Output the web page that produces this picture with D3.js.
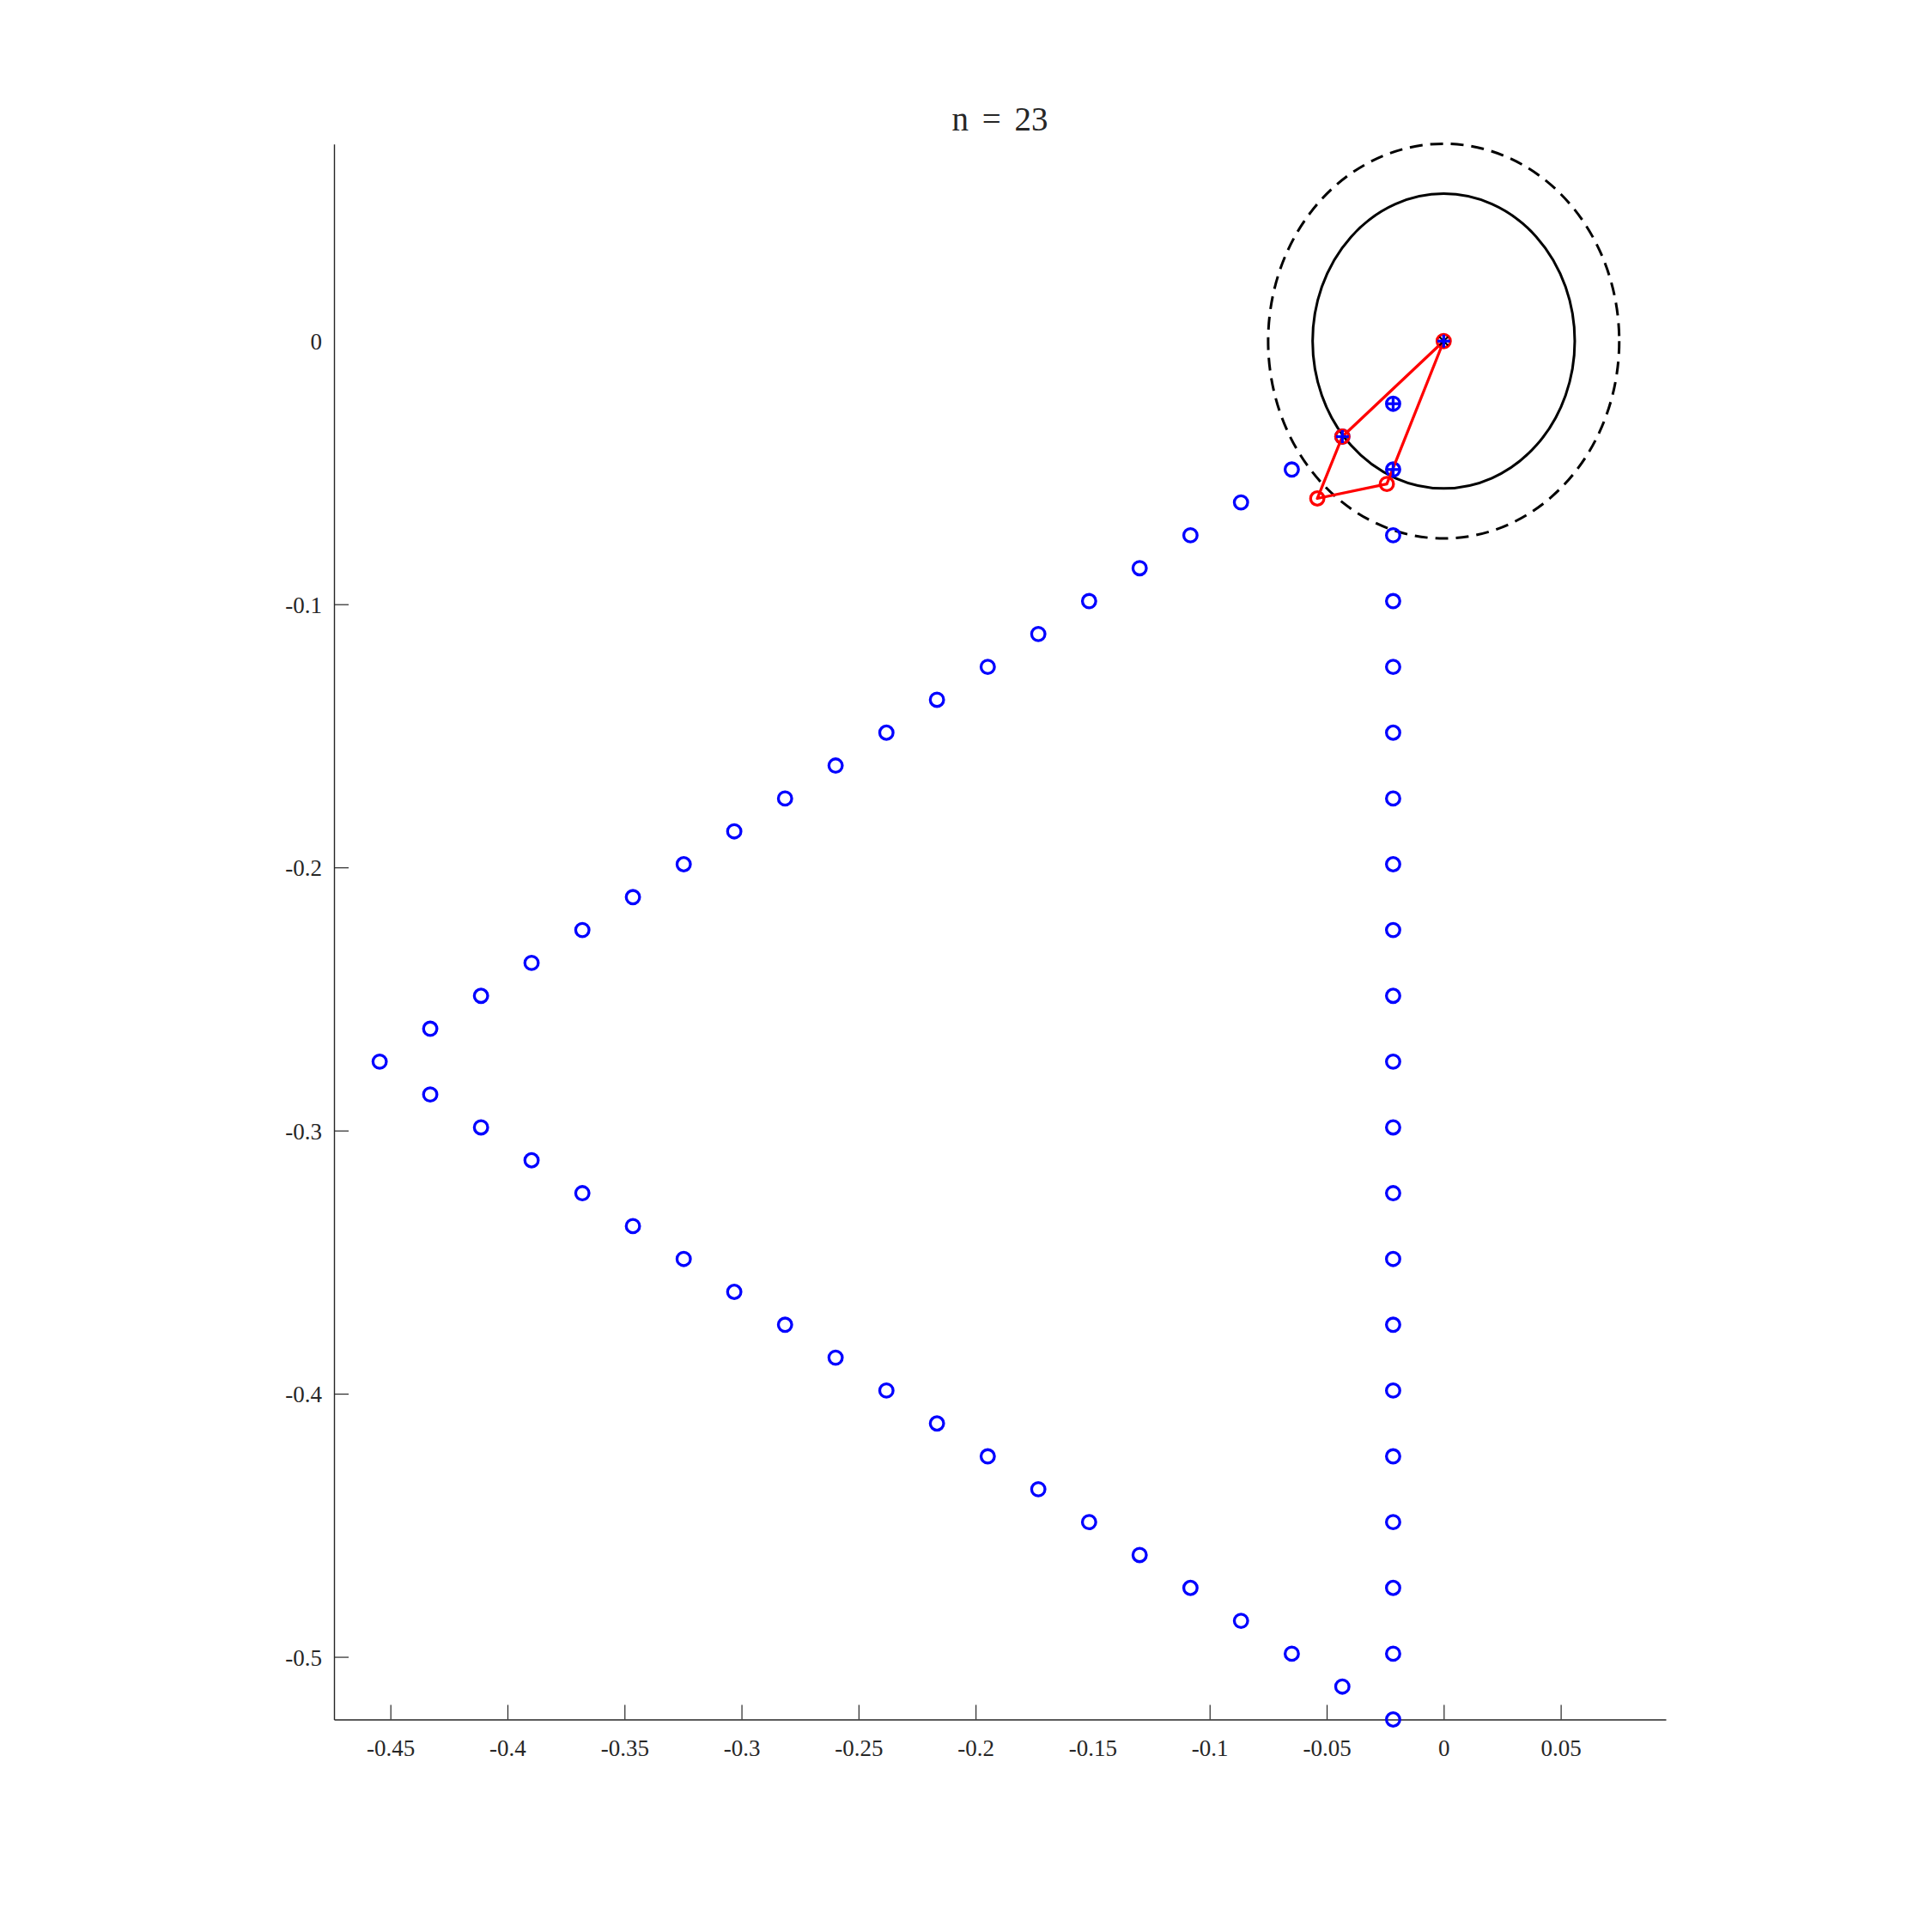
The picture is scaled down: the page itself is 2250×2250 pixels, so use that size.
<!DOCTYPE html>
<html>
<head>
<meta charset="utf-8">
<script src="https://cdn.jsdelivr.net/npm/d3@7"></script>
<style>
  html, body { margin: 0; padding: 0; background: #fff; }
  svg { display: block; }
  text { font-family: "Liberation Serif", "DejaVu Serif", serif; fill: #262626; }
</style>
</head>
<body>
<script>
// ---------- data ----------
const titleText = "n = 23";

// upper arm of the lattice triangle (from top vertex to left tip)
const upperX = [-0.0216, -0.0433, -0.0649, -0.0866, -0.1082, -0.1299, -0.1515, -0.1732, -0.1948, -0.2165, -0.2381,
                -0.2598, -0.2814, -0.3031, -0.3247, -0.3464, -0.3680, -0.3897, -0.4113, -0.4330, -0.4546];
const upperY = [-0.0238, -0.0363, -0.0488, -0.0613, -0.0738, -0.0863, -0.0988, -0.1113, -0.1238, -0.1363, -0.1488,
                -0.1613, -0.1738, -0.1863, -0.1988, -0.2113, -0.2238, -0.2363, -0.2488, -0.2613, -0.2738];

// lower arm (from next to the left tip down to the bottom vertex)
const lowerX = [-0.4330, -0.4113, -0.3897, -0.3680, -0.3464, -0.3247, -0.3031, -0.2814, -0.2598, -0.2381,
                -0.2165, -0.1948, -0.1732, -0.1515, -0.1299, -0.1082, -0.0866, -0.0649, -0.0433, -0.0216];
const lowerY = [-0.2863, -0.2988, -0.3113, -0.3238, -0.3363, -0.3488, -0.3613, -0.3738, -0.3863, -0.3988,
                -0.4113, -0.4238, -0.4363, -0.4488, -0.4613, -0.4738, -0.4863, -0.4988, -0.5113, -0.5238];

// vertical column (between the two vertices)
const columnX = [-0.0216, -0.0216, -0.0216, -0.0216, -0.0216, -0.0216, -0.0216, -0.0216, -0.0216, -0.0216,
                 -0.0216, -0.0216, -0.0216, -0.0216, -0.0216, -0.0216, -0.0216, -0.0216, -0.0216];
const columnY = [-0.0488, -0.0738, -0.0988, -0.1238, -0.1488, -0.1738, -0.1988, -0.2238, -0.2488, -0.2738,
                 -0.2988, -0.3238, -0.3488, -0.3738, -0.3988, -0.4238, -0.4488, -0.4738, -0.4988];

// neighbour points marked with a plus
const plusX = [0, -0.0216, -0.0433, -0.0216];
const plusY = [0, -0.0238, -0.0363, -0.0488];

// red polygon
const polyX = [0, -0.0433, -0.0540, -0.0243, 0];
const polyY = [0, -0.0363, -0.0598, -0.0543, 0];

// circles around the centre
const centerX = 0, centerY = 0;
const innerRadius = 0.056;
const outerRadius = 0.075;

// axes
const xTicks = [-0.45, -0.4, -0.35, -0.3, -0.25, -0.2, -0.15, -0.1, -0.05, 0, 0.05];
const yTicks = [0, -0.1, -0.2, -0.3, -0.4, -0.5];
const xDomain = [-0.4741, 0.0949];
const yDomain = [-0.5238, 0.0749];

// ---------- drawing ----------
(function () {
const W = 2250, H = 2250;
const mLeft = 389, mRight = 1940, mTop = 167.7, mBottom = 2002.5;

const svg = d3.select("body").append("svg").attr("width", W).attr("height", H);
const x = d3.scaleLinear().domain(xDomain).range([mLeft, mRight]);
const y = d3.scaleLinear().domain(yDomain).range([mBottom, mTop]);

const fmt = d => (d === 0 ? "0" : String(+d.toFixed(2)));

// x axis
const gx = svg.append("g").attr("transform", `translate(0,${mBottom})`)
  .call(d3.axisBottom(x).tickValues(xTicks).tickFormat(fmt).tickSizeInner(-17).tickSizeOuter(0).tickPadding(24));
// y axis
const gy = svg.append("g").attr("transform", `translate(${mLeft},0)`)
  .call(d3.axisLeft(y).tickValues(yTicks).tickFormat(fmt).tickSizeInner(-17).tickSizeOuter(0).tickPadding(14));

[gx, gy].forEach(g => {
  g.select(".domain").attr("stroke", "#262626").attr("stroke-width", 1.4);
  g.selectAll(".tick line").attr("stroke", "#262626").attr("stroke-width", 1.2);
  g.selectAll(".tick text").attr("font-size", 27).attr("fill", "#262626")
    .style("font-family", '"Liberation Serif", "DejaVu Serif", serif');
});
// the reference shows no tick mark at x = -0.15 and y = 0
gx.selectAll(".tick").filter(d => Math.abs(d + 0.15) < 1e-9).select("line").remove();
gy.selectAll(".tick").filter(d => d === 0).select("line").remove();
gx.selectAll(".tick text").attr("y", 42).attr("dy", 0);
gy.selectAll(".tick text").attr("dy", 9.5);

// title
svg.append("text").attr("x", (mLeft + mRight) / 2).attr("y", 152)
  .attr("text-anchor", "middle").attr("font-size", 39).attr("fill", "#000")
  .attr("word-spacing", 6)
  .style("font-family", '"Liberation Serif", "DejaVu Serif", serif')
  .text(titleText);

const plot = svg.append("g");

// circles (ellipses in pixel space since the axes are not equal)
function ring(r, dash) {
  plot.append("ellipse")
    .attr("cx", x(centerX)).attr("cy", y(centerY))
    .attr("rx", x(centerX + r) - x(centerX)).attr("ry", y(centerY) - y(centerY + r))
    .attr("fill", "none").attr("stroke", "#000").attr("stroke-width", 3)
    .attr("stroke-dasharray", dash);
}
ring(innerRadius, null);
ring(outerRadius, "15,9");

// blue lattice points
const pts = [];
upperX.forEach((v, i) => pts.push([v, upperY[i]]));
lowerX.forEach((v, i) => pts.push([v, lowerY[i]]));
columnX.forEach((v, i) => pts.push([v, columnY[i]]));
plot.append("g").selectAll("circle").data(pts).join("circle")
  .attr("cx", d => x(d[0])).attr("cy", d => y(d[1])).attr("r", 7.8)
  .attr("fill", "none").attr("stroke", "#0000ff").attr("stroke-width", 3.3);

// red polygon
const polyPts = polyX.map((v, i) => [v, polyY[i]]);
plot.append("path")
  .attr("d", d3.line().x(d => x(d[0])).y(d => y(d[1]))(polyPts))
  .attr("fill", "none").attr("stroke", "#ff0000").attr("stroke-width", 3.3).attr("stroke-linejoin", "round");
plot.append("g").selectAll("circle").data(polyPts.slice(0, 4)).join("circle")
  .attr("cx", d => x(d[0])).attr("cy", d => y(d[1])).attr("r", 7.8)
  .attr("fill", "none").attr("stroke", "#ff0000").attr("stroke-width", 3.3);

// black asterisk at the centre
const ast = plot.append("g").attr("transform", `translate(${x(centerX)},${y(centerY)})`);
[0, 45, 90, 135].forEach(a => {
  ast.append("line").attr("x1", -7).attr("x2", 7).attr("y1", 0).attr("y2", 0)
    .attr("transform", `rotate(${a})`).attr("stroke", "#000").attr("stroke-width", 2);
});

// blue plus markers
const plusPts = plusX.map((v, i) => [v, plusY[i]]);
const pg = plot.append("g").selectAll("g").data(plusPts).join("g")
  .attr("transform", d => `translate(${x(d[0])},${y(d[1])})`);
pg.append("line").attr("x1", -7.5).attr("x2", 7.5).attr("y1", 0).attr("y2", 0)
  .attr("stroke", "#0000ff").attr("stroke-width", 3.3);
pg.append("line").attr("x1", 0).attr("x2", 0).attr("y1", -7.5).attr("y2", 7.5)
  .attr("stroke", "#0000ff").attr("stroke-width", 3.3);
})();
</script>
</body>
</html>
